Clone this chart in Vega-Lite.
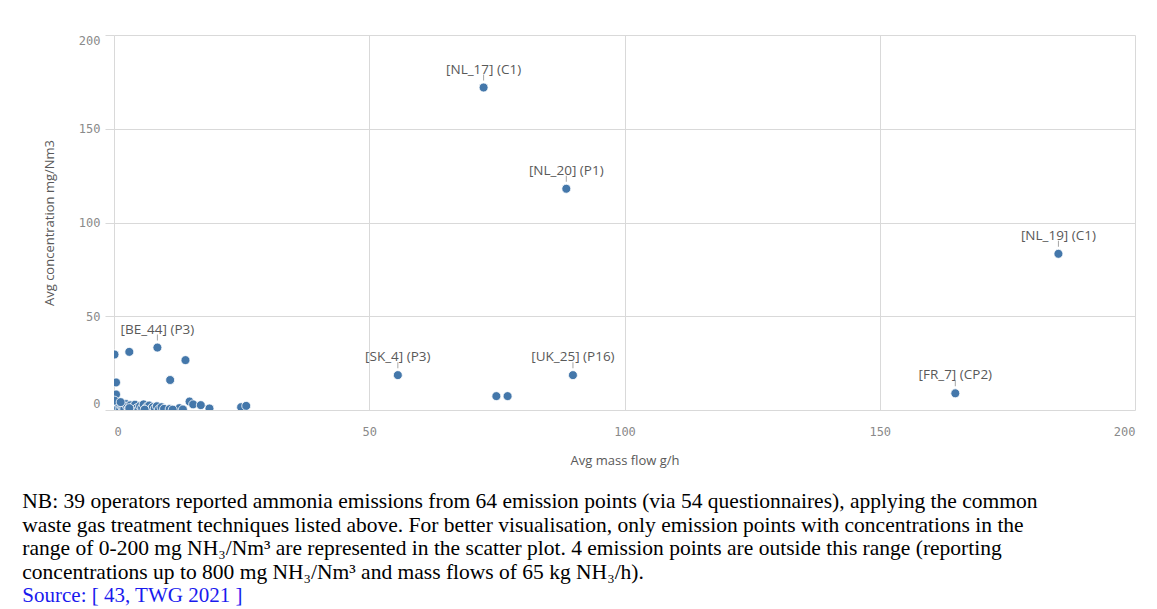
{
  "$schema": "https://vega.github.io/schema/vega-lite/v6.json",
  "autosize": "none",
  "width": 1021,
  "height": 375,
  "padding": {"left": 114, "top": 35, "right": 22, "bottom": 199},
  "background": "white",
  "config": {
    "view": {"stroke": null},
    "axis": {"gridColor": "#d9d9d9", "gridWidth": 1, "domain": false}
  },
  "title": {
    "text": [
      "NB: 39 operators reported ammonia emissions from 64 emission points (via 54 questionnaires), applying the common",
      "waste gas treatment techniques listed above. For better visualisation, only emission points with concentrations in the",
      "range of 0-200 mg NH₃/Nm³ are represented in the scatter plot. 4 emission points are outside this range (reporting",
      "concentrations up to 800 mg NH₃/Nm³ and mass flows of 65 kg NH₃/h)."
    ],
    "subtitle": "Source: [ 43, TWG 2021 ]",
    "orient": "bottom",
    "anchor": "start",
    "frame": "bounds",
    "font": "Liberation Serif",
    "fontSize": 21.5,
    "fontWeight": "normal",
    "color": "#000000",
    "lineHeight": 23.5,
    "subtitleFont": "Liberation Serif",
    "subtitleFontSize": 21,
    "subtitleColor": "#1a1aee",
    "subtitleLineHeight": 23.5,
    "subtitlePadding": 2,
    "offset": 24,
    "dx": -21
  },
  "data": {
    "values": [
      {"flow": 72.4, "conc": 172, "label": "[NL_17] (C1)"},
      {"flow": 88.6, "conc": 118, "label": "[NL_20] (P1)"},
      {"flow": 185.0, "conc": 83.3, "label": "[NL_19] (C1)"},
      {"flow": 55.6, "conc": 18.6, "label": "[SK_4] (P3)"},
      {"flow": 89.9, "conc": 18.6, "label": "[UK_25] (P16)"},
      {"flow": 164.8, "conc": 8.9, "label": "[FR_7] (CP2)"},
      {"flow": 8.5, "conc": 33.3, "label": "[BE_44] (P3)"},
      {"flow": 74.9, "conc": 7.4, "label": null},
      {"flow": 77.1, "conc": 7.4, "label": null},
      {"flow": 0.1, "conc": 29.6, "label": null},
      {"flow": 3.0, "conc": 31.0, "label": null},
      {"flow": 14.0, "conc": 26.6, "label": null},
      {"flow": 11.0, "conc": 16.0, "label": null},
      {"flow": 0.4, "conc": 14.7, "label": null},
      {"flow": 0.4, "conc": 8.3, "label": null},
      {"flow": 0.2, "conc": 1.5, "label": null},
      {"flow": 0.3, "conc": 0.5, "label": null},
      {"flow": 0.5, "conc": 2.5, "label": null},
      {"flow": 0.8, "conc": 1.0, "label": null},
      {"flow": 1.0, "conc": 3.0, "label": null},
      {"flow": 1.2, "conc": 0.3, "label": null},
      {"flow": 1.5, "conc": 2.0, "label": null},
      {"flow": 1.8, "conc": 1.2, "label": null},
      {"flow": 2.0, "conc": 0.5, "label": null},
      {"flow": 2.3, "conc": 3.2, "label": null},
      {"flow": 2.6, "conc": 1.8, "label": null},
      {"flow": 2.9, "conc": 0.8, "label": null},
      {"flow": 3.2, "conc": 2.5, "label": null},
      {"flow": 3.5, "conc": 0.4, "label": null},
      {"flow": 3.8, "conc": 1.5, "label": null},
      {"flow": 4.1, "conc": 2.8, "label": null},
      {"flow": 4.5, "conc": 1.0, "label": null},
      {"flow": 4.8, "conc": 0.2, "label": null},
      {"flow": 5.1, "conc": 2.0, "label": null},
      {"flow": 5.5, "conc": 1.2, "label": null},
      {"flow": 5.8, "conc": 3.0, "label": null},
      {"flow": 6.2, "conc": 0.6, "label": null},
      {"flow": 6.5, "conc": 1.8, "label": null},
      {"flow": 6.9, "conc": 2.4, "label": null},
      {"flow": 7.3, "conc": 0.5, "label": null},
      {"flow": 7.6, "conc": 1.5, "label": null},
      {"flow": 8.0, "conc": 0.8, "label": null},
      {"flow": 8.4, "conc": 2.0, "label": null},
      {"flow": 8.8, "conc": 0.3, "label": null},
      {"flow": 9.3, "conc": 1.5, "label": null},
      {"flow": 9.8, "conc": 0.6, "label": null},
      {"flow": 10.9, "conc": 0.5, "label": null},
      {"flow": 12.8, "conc": 1.0, "label": null},
      {"flow": 14.8, "conc": 4.5, "label": null},
      {"flow": 15.5, "conc": 3.0, "label": null},
      {"flow": 17.0, "conc": 2.6, "label": null},
      {"flow": 18.7, "conc": 0.8, "label": null},
      {"flow": 24.9, "conc": 1.5, "label": null},
      {"flow": 25.9, "conc": 2.2, "label": null},
      {"flow": 0.1, "conc": 5.0, "label": null},
      {"flow": 1.3, "conc": 4.2, "label": null},
      {"flow": 3.0, "conc": 1.0, "label": null},
      {"flow": 6.0, "conc": 0.2, "label": null},
      {"flow": 11.5, "conc": 0.2, "label": null},
      {"flow": 13.5, "conc": 0.3, "label": null}
    ]
  },
  "encoding": {
    "x": {
      "field": "flow",
      "type": "quantitative",
      "scale": {"domain": [0, 200], "nice": false, "zero": false},
      "axis": {
        "title": "Avg mass flow g/h",
        "values": [0, 50, 100, 150, 200],
        "ticks": false,
        "labelFlush": true,
        "labelPadding": 16,
        "labelFont": "DejaVu Sans Mono",
        "labelFontSize": 12,
        "labelColor": "#8a8a8a",
        "titleFont": "Open Sans",
        "titleFontSize": 13,
        "titleFontWeight": "normal",
        "titleColor": "#595959",
        "titlePadding": 17
      }
    },
    "y": {
      "field": "conc",
      "type": "quantitative",
      "scale": {"domain": [0, 200], "nice": false, "zero": false},
      "axis": {
        "title": "Avg concentration mg/Nm3",
        "values": [0, 50, 100, 150, 200],
        "ticks": true,
        "tickSize": 9,
        "tickColor": "#d9d9d9",
        "labelFlush": true,
        "labelPadding": 5,
        "labelFont": "DejaVu Sans Mono",
        "labelFontSize": 12,
        "labelColor": "#8a8a8a",
        "titleFont": "Open Sans",
        "titleFontSize": 13,
        "titleFontWeight": "normal",
        "titleColor": "#595959",
        "titlePadding": 22
      }
    }
  },
  "layer": [
    {
      "mark": {"type": "point", "filled": true, "size": 80, "color": "#4477aa", "opacity": 1, "stroke": "white", "strokeWidth": 0.8, "clip": true}
    },
    {
      "transform": [{"filter": "datum.label != null"}],
      "mark": {"type": "tick", "orient": "vertical", "size": 6, "thickness": 1, "yOffset": -10, "color": "#7f7f7f"}
    },
    {
      "transform": [{"filter": "datum.label != null"}],
      "mark": {"type": "text", "dy": -18, "baseline": "middle", "align": "center", "font": "Open Sans", "fontSize": 13.5, "color": "#595959"},
      "encoding": {"text": {"field": "label"}}
    }
  ]
}
